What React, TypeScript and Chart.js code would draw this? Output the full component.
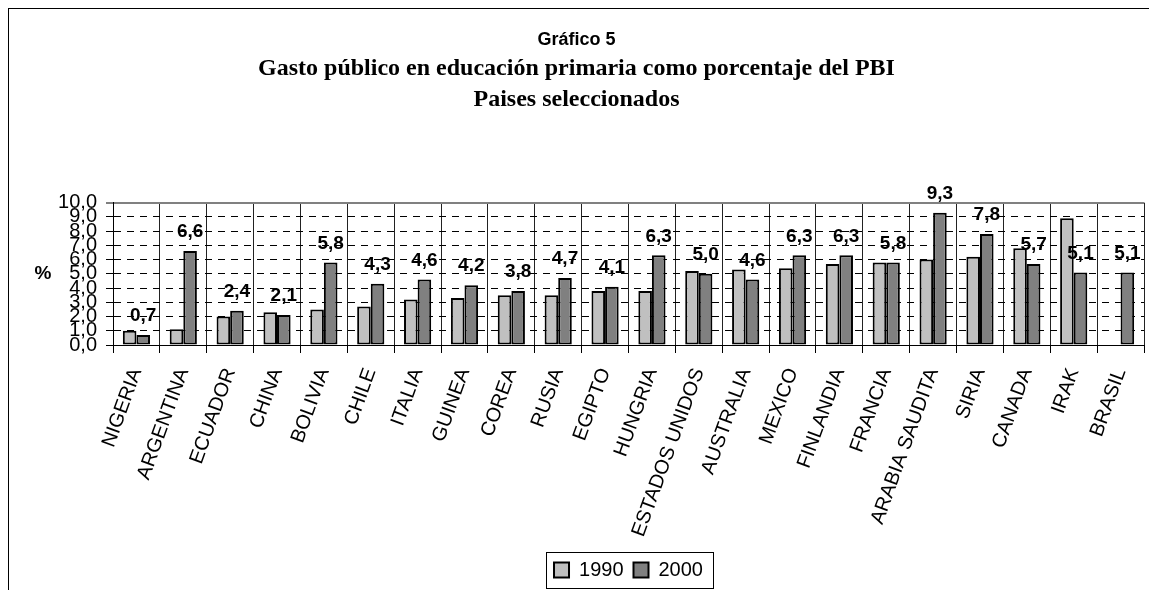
import React, { useEffect, useRef } from 'react';
import { Chart, registerables } from 'chart.js';

Chart.register(...registerables);

const categories = [
  'NIGERIA', 'ARGENTINA', 'ECUADOR', 'CHINA', 'BOLIVIA', 'CHILE', 'ITALIA', 'GUINEA',
  'COREA', 'RUSIA', 'EGIPTO', 'HUNGRIA', 'ESTADOS UNIDOS', 'AUSTRALIA', 'MEXICO',
  'FINLANDIA', 'FRANCIA', 'ARABIA SAUDITA', 'SIRIA', 'CANADA', 'IRAK', 'BRASIL',
];
const values1990: (number | null)[] = [
  1.0, 1.1, 2.0, 2.3, 2.5, 2.7, 3.2, 3.3, 3.5, 3.5, 3.8, 3.8, 5.2, 5.3, 5.4, 5.7, 5.8, 6.0, 6.2, 6.8, 8.9, null,
];
const values2000: (number | null)[] = [
  0.7, 6.6, 2.4, 2.1, 5.8, 4.3, 4.6, 4.2, 3.8, 4.7, 4.1, 6.3, 5.0, 4.6, 6.3, 6.3, 5.8, 9.3, 7.8, 5.7, 5.1, 5.1,
];
const seriesLabels = ['1990', '2000'];
const yTickLabels = ['0,0', '1,0', '2,0', '3,0', '4,0', '5,0', '6,0', '7,0', '8,0', '9,0', '10,0'];
const titleText = 'Gráfico 5';
const subtitleLines = ['Gasto público en educación primaria como porcentaje del PBI', 'Paises seleccionados'];
const yAxisLabel = '%';

const SANS = "'Liberation Sans', Arial, sans-serif";
const SERIF = "'Liberation Serif', 'Times New Roman', serif";

const annotate = {
  id: 'annotate',
  afterDatasetsDraw(chart: any) {
    const ctx = chart.ctx;
    const meta = chart.getDatasetMeta(1);
    ctx.save();
    ctx.font = `bold 19px ${SANS}`;
    ctx.fillStyle = '#000';
    ctx.textAlign = 'center';
    ctx.textBaseline = 'middle';
    meta.data.forEach((el: any, i: number) => {
      const v = values2000[i];
      if (v == null) return;
      ctx.fillText(v.toFixed(1).replace('.', ','), el.x, el.y - 19);
    });
    const { top, bottom } = chart.chartArea;
    ctx.font = `bold 19px ${SANS}`;
    ctx.fillText(yAxisLabel, 34, (top + bottom) / 2);
    ctx.restore();
  },
  afterDraw(chart: any) {
    const lg = chart.legend;
    const hb = lg && lg.legendHitBoxes;
    if (!hb || !hb.length) return;
    const ctx = chart.ctx;
    const first = hb[0];
    const last = hb[hb.length - 1];
    const cy = first.top + first.height / 2;
    ctx.save();
    ctx.strokeStyle = '#000';
    ctx.lineWidth = 1;
    const x0 = Math.round(first.left - 8) + 0.5;
    const x1 = Math.round(last.left + last.width + 10) + 0.5;
    const y0 = Math.round(cy - 18) + 0.5;
    ctx.strokeRect(x0, y0, x1 - x0, 36);
    ctx.restore();
  },
};

export default function App() {
  const ref = useRef<HTMLCanvasElement | null>(null);

  useEffect(() => {
    if (!ref.current) return;
    const chart = new Chart(ref.current, {
      type: 'bar',
      data: {
        labels: categories,
        datasets: [
          {
            label: seriesLabels[0],
            data: values1990,
            backgroundColor: '#C0C0C0',
            borderColor: '#000',
            borderWidth: 2,
            borderSkipped: false,
            categoryPercentage: 0.58,
            barPercentage: 1,
          },
          {
            label: seriesLabels[1],
            data: values2000,
            backgroundColor: '#808080',
            borderColor: '#000',
            borderWidth: 2,
            borderSkipped: false,
            categoryPercentage: 0.58,
            barPercentage: 1,
          },
        ],
      },
      options: {
        responsive: false,
        animation: false,
        layout: { padding: { left: 0, right: 21, top: 0, bottom: 9 } },
        plugins: {
          title: {
            display: true,
            text: titleText,
            color: '#000',
            font: { family: SANS, size: 18, weight: 'bold', lineHeight: 1.2 },
            padding: { top: 20, bottom: 0 },
          },
          subtitle: {
            display: true,
            text: subtitleLines,
            color: '#000',
            font: { family: SERIF, size: 24, weight: 'bold', lineHeight: 1.3 },
            padding: { top: 2.4, bottom: 87.3 },
          },
          legend: {
            position: 'bottom',
            fullSize: false,
            labels: {
              color: '#000',
              font: { family: SANS, size: 20 },
              boxWidth: 15,
              boxHeight: 15,
              padding: 10,
            },
          },
          tooltip: { enabled: false },
        },
        scales: {
          x: {
            grid: {
              offset: true,
              color: (c: any) => (c.index === categories.length ? '#808080' : '#222'),
              lineWidth: (c: any) => (c.index === categories.length ? 2 : 1),
              tickLength: 8,
              tickColor: '#000',
              tickWidth: 1,
            },
            border: { color: '#000', width: 1 },
            ticks: {
              autoSkip: false,
              minRotation: 70,
              maxRotation: 70,
              padding: 12,
              color: '#000',
              font: { family: SANS, size: 20 },
            },
            afterFit: (s: any) => {
              s.height = 205;
            },
          },
          y: {
            min: 0,
            max: 10,
            ticks: {
              stepSize: 1,
              autoSkip: false,
              padding: 9,
              color: '#000',
              font: { family: SANS, size: 20 },
              callback: (v: any) => yTickLabels[Math.round(Number(v))],
            },
            grid: {
              color: (c: any) => (c.tick && c.tick.value === 10 ? '#808080' : '#000'),
              lineWidth: (c: any) => (c.tick && c.tick.value === 10 ? 2 : 1),
              tickBorderDash: [],
              tickLength: 7,
              tickColor: '#000',
              tickWidth: 1,
            },
            border: {
              color: '#000',
              width: 1,
              dash: (c: any) => (c.tick && (c.tick.value === 10 || c.tick.value === 0) ? [] : [7, 6]),
            },
            afterFit: (s: any) => {
              s.width = 104;
            },
          },
        },
      } as any,
      plugins: [annotate],
    });
    return () => chart.destroy();
  }, []);

  return (
    <>
      <style>{'html,body{overflow:hidden}'}</style>
      <div
        style={{
          width: 1156,
          height: 590,
          borderLeft: '1px solid #000',
          borderTop: '1px solid #000',
          background: '#fff',
        }}
      >
        <canvas ref={ref} width={1156} height={590} style={{ display: 'block', width: 1156, height: 590 }} />
      </div>
    </>
  );
}
